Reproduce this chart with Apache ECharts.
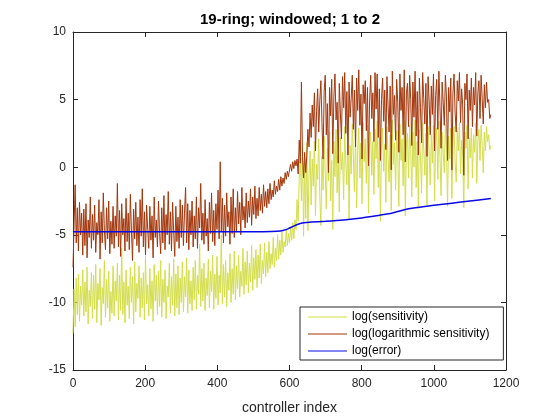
<!DOCTYPE html>
<html><head><meta charset="utf-8">
<script src="https://cdn.jsdelivr.net/npm/echarts@6/dist/echarts.min.js"></script>
<style>html,body{margin:0;padding:0;background:#fff}#c{width:560px;height:420px}</style>
</head><body><div id="c"></div>
<script>
// controller index step between samples of the two sensitivity series
var step = 3;
// log(sensitivity), samples at index 0,3,6,...
var logSens = [
-12.3,-9.0,-11.8,-8.2,-10.9,-7.9,-11.4,-8.8,-10.2,-7.6,
-11.0,-8.5,-10.7,-7.4,-11.6,-9.1,-10.3,-7.8,-11.2,-8.0,
-10.5,-7.2,-11.5,-8.6,-9.8,-7.5,-11.7,-8.9,-10.1,-6.9,
-11.1,-8.3,-10.4,-7.7,-11.4,-9.2,-10.8,-7.3,-11.0,-8.4,
-9.9,-7.1,-11.3,-8.0,-10.6,-6.0,-10.9,-8.5,-11.5,-7.6,
-10.2,-8.8,-11.2,-7.4,-10.0,-8.1,-11.6,-7.0,-10.7,-8.6,
-9.7,-7.3,-11.1,-8.2,-10.4,-7.8,-11.3,-6.6,-10.1,-8.7,
-11.0,-7.5,-10.5,-8.4,-11.4,-7.2,-9.9,-8.0,-10.9,-7.7,
-10.3,-6.9,-11.1,-8.3,-10.0,-7.6,-11.2,-8.8,-9.6,-7.1,
-10.8,-8.1,-10.2,-6.8,-11.0,-7.9,-10.4,-7.3,-10.9,-8.2,
-10.0,-7.0,-10.7,-8.1,-9.6,-6.7,-10.8,-7.6,-10.1,-8.4,
-10.6,-7.4,-9.8,-6.9,-10.5,-8.0,-9.4,-5.7,-10.3,-7.5,
-9.9,-7.1,-10.6,-8.2,-9.5,-6.8,-10.4,-7.7,-9.2,-6.5,
-10.5,-7.9,-9.7,-6.6,-10.2,-8.0,-9.3,-5.0,-10.1,-7.2,
-9.6,-6.9,-10.3,-7.8,-9.1,-6.4,-10.0,-7.5,-9.4,-6.2,
-9.8,-7.3,-9.0,-6.5,-9.6,-7.7,-8.8,-6.0,-9.4,-7.0,
-8.7,-6.2,-9.3,-7.1,-8.5,-5.8,-9.1,-6.7,-8.3,-6.1,
-8.9,-6.5,-8.2,-5.7,-8.6,-6.9,-7.9,-5.6,-8.1,-6.3,
-7.8,-5.5,-7.5,-6.4,-7.2,-5.2,-7.4,-6.0,-6.9,-5.0,
-6.8,-5.4,-6.5,-4.8,-6.3,-5.5,-5.9,-4.6,-5.8,-4.9,
-5.6,-4.5,-5.4,-4.1,-5.3,-3.9,-4.6,-2.4,-4.0,-0.8,
0.9,-2.5,1.5,-5.1,0.4,-3.8,1.8,-4.7,-0.6,1.2,
-2.8,0.6,-1.4,1.9,-3.6,0.2,-0.9,2.1,-2.2,-4.3,
0.8,-1.7,2.3,-0.4,-3.1,1.4,-1.0,2.6,-2.5,0.5,
-4.6,1.9,-0.7,2.8,-1.9,0.9,-3.3,2.2,-0.2,1.1,
-2.4,3.0,0.3,-1.3,2.5,-3.8,1.6,-0.5,3.2,0.7,
-1.8,2.7,-3.0,1.2,2.9,-0.8,1.8,-2.7,3.3,0.4,
2.1,-1.2,3.1,-3.4,1.5,2.6,-0.6,1.9,-2.0,2.8,
0.6,3.4,-1.5,2.2,-4.0,1.3,2.9,-0.3,1.7,-2.6,
3.0,0.9,-1.1,2.4,-3.2,3.5,0.2,1.8,-1.7,2.7,
1.0,-2.9,3.2,0.5,2.1,-1.4,3.4,-3.6,1.6,2.5,
-0.8,3.1,1.3,-2.2,2.6,0.0,3.5,-1.5,1.9,-3.0,
2.8,0.7,-1.9,3.3,1.4,-0.6,2.5,-2.8,3.0,1.1,
-1.3,2.4,0.3,3.1,-2.5,1.7,2.9,-0.9,3.4,0.8,
-2.1,2.6,1.0,-0.4,3.2,1.5,-2.9,2.3,0.6,2.9,
-2.3,1.8,3.0,0.4,-1.1,2.7,1.2,3.3,-0.5,2.0,
0.9,-3.0,2.6,1.4,3.1,-1.6,2.2,0.7,2.9,-0.8,
2.4,1.1,3.3,-1.2,2.0,2.8,0.5,3.1,1.6,-0.4,
2.6,1.2,3.0,1.9,2.4,1.3,1.6
];
// log(logarithmic sensitivity), same sample indices
var logLogSens = [
-7.4,-4.2,-1.3,-5.6,-3.0,-6.2,-2.6,-5.0,-3.4,-6.5,
-3.1,-5.8,-2.7,-6.7,-3.9,-5.2,-2.2,-6.0,-3.5,-5.4,
-2.8,-6.3,-4.1,-5.0,-2.4,-6.8,-3.3,-5.6,-1.9,-4.7,
-6.1,-3.0,-5.3,-2.5,-6.4,-4.0,-5.7,-2.9,-6.0,-3.6,
-5.1,-1.2,-5.9,-3.2,-6.6,-2.7,-5.0,-3.8,-6.2,-2.3,
-5.5,-3.4,-6.1,-2.0,-4.8,-6.9,-3.1,-5.3,-2.6,-5.8,
-3.7,-6.3,-2.4,-5.1,-1.6,-5.9,-3.3,-6.5,-2.8,-4.6,
-6.0,-2.9,-5.4,-3.6,-6.7,-2.2,-5.2,-3.9,-5.9,-2.5,
-4.9,-6.4,-3.0,-5.6,-2.1,-6.1,-3.5,-5.0,-1.8,-5.7,
-3.3,-6.2,-2.6,-4.8,-6.6,-2.9,-5.5,-3.7,-6.0,-2.4,
-5.2,-2.8,-5.8,-3.4,-1.5,-5.6,-2.7,-6.1,-3.2,-5.0,
-2.5,-5.9,-3.6,-5.3,-2.2,-6.0,-3.0,-4.5,-1.2,-5.4,
-3.4,-5.7,-2.4,-5.1,-3.8,-6.2,-2.6,-4.9,-1.9,-5.5,
-3.2,-5.8,-2.7,-4.6,-1.7,-5.3,0.4,-4.8,-2.3,-5.6,
-2.8,-5.1,-1.9,-4.4,-3.3,-5.7,-2.2,-4.9,-1.6,-5.2,
-3.0,-4.8,-1.8,-4.2,-2.6,-5.0,-1.5,-3.9,-2.9,-4.5,
-1.9,-4.1,-2.5,-3.7,-1.6,-4.3,-2.2,-3.5,-1.4,-3.8,
-2.3,-3.6,-1.5,-3.2,-2.0,-3.4,-1.3,-2.9,-1.8,-3.0,
-1.6,-2.7,-1.2,-2.4,-1.7,-2.2,-1.0,-2.0,-1.4,-1.8,
-0.9,-1.7,-0.7,-1.4,-0.8,-1.2,-0.4,-0.9,-0.3,-0.7,
-0.2,0.2,-0.3,0.4,-0.1,0.5,0.1,0.6,-0.5,2.0,
0.3,6.3,0.8,-0.8,1.1,-0.4,0.9,2.8,1.5,4.0,
2.2,4.6,3.0,5.5,1.2,4.1,5.8,2.6,4.9,6.4,
3.3,0.6,5.6,6.8,2.4,4.7,-0.4,5.9,3.8,6.5,
1.0,5.2,6.9,3.5,4.8,0.3,6.2,4.0,2.1,6.7,
4.4,7.0,2.5,5.6,0.9,6.3,3.7,5.1,6.8,2.8,
5.7,1.5,6.6,4.2,7.2,3.1,5.4,0.6,6.1,4.7,
6.4,2.7,5.9,0.1,4.9,6.8,3.6,5.5,1.9,7.0,
4.3,6.9,2.2,5.8,0.5,5.0,6.6,3.4,5.7,1.3,
6.7,4.6,2.6,6.0,-0.2,7.1,3.9,5.3,2.0,6.5,
4.8,1.1,6.9,4.2,5.9,2.4,7.2,0.4,5.5,6.2,
3.0,6.8,5.0,1.6,6.3,3.7,7.1,2.3,5.6,0.9,
6.6,4.4,1.8,7.0,5.1,3.2,6.2,0.8,6.7,4.9,
2.4,6.0,3.9,6.9,1.2,5.3,6.5,2.8,7.1,4.5,
1.4,6.3,4.8,3.1,6.8,5.2,0.5,5.9,4.1,6.6,
-0.2,5.5,6.9,4.0,2.6,6.4,4.9,7.0,3.3,5.8,
4.6,-0.6,6.2,5.0,6.9,2.1,5.7,4.2,6.6,3.0,
5.9,4.6,7.0,2.3,5.5,6.4,3.6,6.8,5.1,3.2,
6.1,4.4,6.3,4.8,5.0,3.6,3.9
];
// log(error)
var errIdx = [0,100,200,300,400,500,550,575,590,600,610,620,630,640,660,700,750,800,850,880,900,930,960,1000,1050,1100,1158];
var errVal = [-4.78,-4.78,-4.78,-4.78,-4.78,-4.78,-4.76,-4.72,-4.62,-4.5,-4.38,-4.26,-4.16,-4.1,-4.06,-4.0,-3.9,-3.75,-3.55,-3.42,-3.28,-3.08,-2.96,-2.82,-2.66,-2.5,-2.32];

var seriesNames = ['log(sensitivity)','log(logarithmic sensitivity)','log(error)'];
var seriesColors = ['#d4de4c','#a3370c','#0a0ae6'];
var xTicks = {min:0,max:1200,interval:200};
var yTicks = {min:-15,max:10,interval:5};
var titleText = '19-ring; windowed; 1 to 2';
var xName = 'controller index';

function pairs(vals){ return vals.map(function(v,i){ return [i*step, v]; }); }
var errData = errIdx.map(function(x,i){ return [x, errVal[i]]; });

var axCol = '#262626';
var font = 'Liberation Sans, Arial, Helvetica, sans-serif';
function fmt(v){ return String(v); }
function xAx(pos, show){
  return {type:'value', position:pos, min:xTicks.min, max:xTicks.max, interval:xTicks.interval,
    axisLine:{show:true, onZero:false, lineStyle:{color:axCol,width:1}},
    axisTick:{show:true, inside:true, length:5, lineStyle:{color:axCol}},
    axisLabel:{show:show, color:axCol, fontSize:12, fontFamily:font, margin:8, formatter:fmt},
    splitLine:{show:false},
    name: show ? xName : '', nameLocation:'middle', nameGap:31,
    nameTextStyle:{color:axCol, fontSize:14, fontFamily:font}};
}
function yAx(pos, show){
  return {type:'value', position:pos, min:yTicks.min, max:yTicks.max, interval:yTicks.interval,
    axisLine:{show:true, onZero:false, lineStyle:{color:axCol,width:1}},
    axisTick:{show:true, inside:true, length:5, lineStyle:{color:axCol}},
    axisLabel:{show:show, color:axCol, fontSize:12, fontFamily:font, margin:7, formatter:fmt},
    splitLine:{show:false}};
}
var chart = echarts.init(document.getElementById('c'), null, {renderer:'canvas'});
chart.setOption({
  animation:false,
  backgroundColor:'#fff',
  title:{text:titleText, left:285, textAlign:'center', top:7,
    textStyle:{fontSize:15, fontWeight:'bold', color:'#000', fontFamily:font}},
  grid:{left:73, right:54, top:32, bottom:47, containLabel:false},
  xAxis:[xAx('bottom',true), xAx('top',false)],
  yAxis:[yAx('left',true), yAx('right',false)],
  legend:{orient:'vertical', left:300, top:307,
    data:seriesNames.map(function(n){ return {name:n, icon:'rect'}; }),
    itemWidth:39, itemHeight:1, itemGap:3, padding:[3,14,2,8],
    borderColor:axCol, borderWidth:1, backgroundColor:'#fff', borderRadius:0,
    textStyle:{fontSize:12, lineHeight:14, color:'#000', fontFamily:font}},
  series:[
    {name:seriesNames[0], type:'line', data:pairs(logSens), showSymbol:false, symbol:'none',
      lineStyle:{color:seriesColors[0], width:1}, itemStyle:{color:seriesColors[0]}, z:2},
    {name:seriesNames[1], type:'line', data:pairs(logLogSens), showSymbol:false, symbol:'none',
      lineStyle:{color:seriesColors[1], width:1}, itemStyle:{color:seriesColors[1]}, z:3},
    {name:seriesNames[2], type:'line', data:errData, showSymbol:false, symbol:'none', smooth:0.3,
      lineStyle:{color:seriesColors[2], width:1.5}, itemStyle:{color:seriesColors[2]}, z:4}
  ]
});
</script></body></html>
